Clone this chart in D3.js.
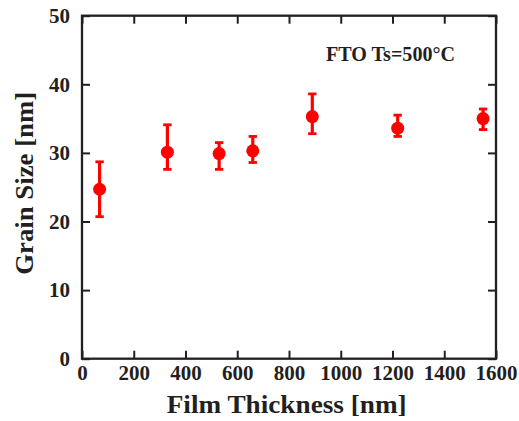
<!DOCTYPE html>
<html>
<head>
<meta charset="utf-8">
<script src="https://cdn.jsdelivr.net/npm/d3@7/dist/d3.min.js"></script>
<style>
  html, body { margin: 0; padding: 0; background: #fff; }
  svg { display: block; }
  text { font-family: "Liberation Serif", "Times New Roman", serif; font-weight: bold; fill: #231f20; }
</style>
</head>
<body>
<svg id="chart" width="519" height="421"></svg>
<script>
// ---- data ----
const thickness = [68, 330, 530, 660, 890, 1220, 1550];
const grainSize = [24.7, 30.1, 29.9, 30.3, 35.3, 33.6, 35.0];
const errLower  = [20.7, 27.6, 27.6, 28.6, 32.8, 32.4, 33.4];
const errUpper  = [28.7, 34.1, 31.5, 32.4, 38.6, 35.5, 36.4];
const xTicks = [0, 200, 400, 600, 800, 1000, 1200, 1400, 1600];
const yTicks = [0, 10, 20, 30, 40, 50];
const xTitle = "Film Thickness [nm]";
const yTitle = "Grain Size [nm]";
const note = "FTO Ts=500°C";

const svg = d3.select("#chart");
const L = 82, R = 496, T = 15.7, B = 358.7;
const x = d3.scaleLinear().domain([0, 1600]).range([L, R]);
const y = d3.scaleLinear().domain([0, 50]).range([B, T]);
const ink = "#231f20";
const red = "#ff0000";

function styleAxis(g, showLabels) {
  g.attr("font-family", null).attr("font-size", null);
  g.select(".domain").remove();
  g.selectAll(".tick line").attr("stroke", ink).attr("stroke-width", 2);
  g.selectAll(".tick text").attr("fill", ink)
    .style("font-family", '"Liberation Serif", "Times New Roman", serif')
    .style("font-weight", "bold").style("font-size", "21px");
  if (!showLabels) g.selectAll(".tick text").remove();
}

svg.append("g").attr("transform", `translate(0,${B})`)
  .call(d3.axisBottom(x).tickValues(xTicks).tickSizeInner(-8).tickSizeOuter(0).tickPadding(6.4).tickFormat(d3.format("d")))
  .call(g => styleAxis(g, true));
svg.append("g").attr("transform", `translate(0,${T})`)
  .call(d3.axisTop(x).tickValues(xTicks).tickSizeInner(-8).tickSizeOuter(0))
  .call(g => styleAxis(g, false));
svg.append("g").attr("transform", `translate(${L},0)`)
  .call(d3.axisLeft(y).tickValues(yTicks).tickSizeInner(-8).tickSizeOuter(0).tickPadding(12))
  .call(g => styleAxis(g, true));
svg.append("g").attr("transform", `translate(${R},0)`)
  .call(d3.axisRight(y).tickValues(yTicks).tickSizeInner(-8).tickSizeOuter(0))
  .call(g => styleAxis(g, false));

// frame
svg.append("rect")
  .attr("x", L).attr("y", T).attr("width", R - L).attr("height", B - T)
  .attr("fill", "none").attr("stroke", ink).attr("stroke-width", 2.3);

// error bars
const data = thickness.map((t, i) => ({ t, v: grainSize[i], lo: errLower[i], hi: errUpper[i] }));
const eb = svg.append("g").attr("stroke", red);
eb.selectAll("line.stem").data(data).join("line").attr("class", "stem")
  .attr("x1", d => x(d.t)).attr("x2", d => x(d.t))
  .attr("y1", d => y(d.lo)).attr("y2", d => y(d.hi)).attr("stroke-width", 3.2);
eb.selectAll("line.capHi").data(data).join("line").attr("class", "capHi")
  .attr("x1", d => x(d.t) - 4.2).attr("x2", d => x(d.t) + 4.2)
  .attr("y1", d => y(d.hi)).attr("y2", d => y(d.hi)).attr("stroke-width", 2.8);
eb.selectAll("line.capLo").data(data).join("line").attr("class", "capLo")
  .attr("x1", d => x(d.t) - 4.2).attr("x2", d => x(d.t) + 4.2)
  .attr("y1", d => y(d.lo)).attr("y2", d => y(d.lo)).attr("stroke-width", 2.8);

svg.append("g").selectAll("circle").data(data).join("circle")
  .attr("cx", d => x(d.t)).attr("cy", d => y(d.v)).attr("r", 6.5).attr("fill", red);

// titles
svg.append("text").attr("x", (166.7 + 406.7) / 2).attr("y", 412.7)
  .attr("text-anchor", "middle").style("font-size", "25px")
  .attr("textLength", 240).attr("lengthAdjust", "spacingAndGlyphs").text(xTitle);
svg.append("text").attr("transform", "translate(33,183.3) rotate(-90)")
  .attr("text-anchor", "middle").style("font-size", "25px")
  .attr("textLength", 183).attr("lengthAdjust", "spacingAndGlyphs").text(yTitle);
svg.append("text").attr("x", 326).attr("y", 60.5).style("font-size", "20px")
  .attr("textLength", 129).attr("lengthAdjust", "spacingAndGlyphs").text(note);
</script>
</body>
</html>
